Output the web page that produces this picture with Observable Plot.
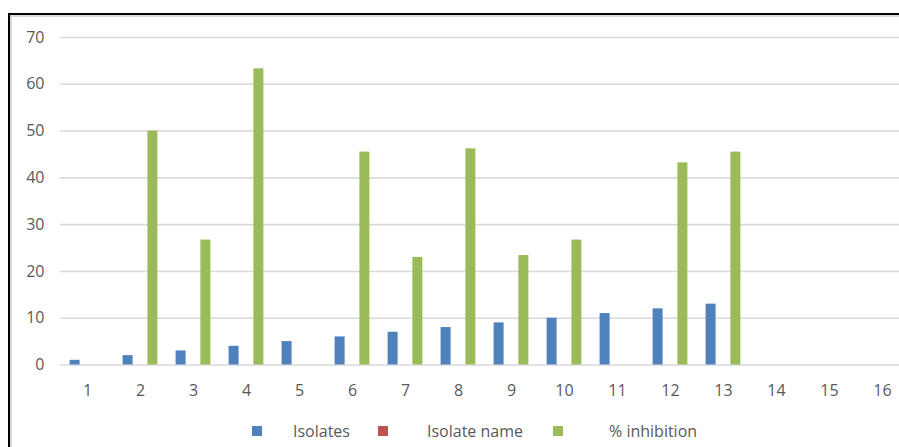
<!DOCTYPE html>
<html>
<head>
<meta charset="utf-8">
<script src="https://cdn.jsdelivr.net/npm/d3@7"></script>
<script src="https://cdn.jsdelivr.net/npm/@observablehq/plot@0.6"></script>
<style>
  html, body { margin: 0; padding: 0; background: #fff; overflow: hidden; width: 899px; height: 447px; }
  #frame { position: absolute; left: 8px; top: 13px; width: 1000px; height: 1000px; border: 2px solid #000; box-shadow: inset 2px 2px 0 #d9d9d9; box-sizing: border-box; }
  #chart { position: absolute; left: 0; top: 0; width: 912px; }
  #chart svg { max-width: none !important; }
  #legend { position: absolute; top: 420px; left: 0; width: 899px; height: 22px; font-family: "Open Sans", sans-serif; font-size: 16px; color: #595959; }
  .sw { position: absolute; top: 6px; width: 10px; height: 10px; }
  .lb { position: absolute; top: 0; line-height: 22px; white-space: nowrap; }
</style>
</head>
<body>
<div id="frame"></div>
<div id="chart"></div>
<div id="legend"></div>
<script>
const categories = ["1","2","3","4","5","6","7","8","9","10","11","12","13","14","15","16"];
const seriesNames = ["Isolates", "Isolate name", "% inhibition"];
const seriesColors = ["#4f81bd", "#c0504d", "#9bbb59"];
const isolates = [1,2,3,4,5,6,7,8,9,10,11,12,13,null,null,null];
const isolateName = [null,null,null,null,null,null,null,null,null,null,null,null,null,null,null,null];
const inhibition = [null,50,26.7,63.3,null,45.5,23,46.2,23.4,26.7,null,43.2,45.5,null,null,null];
const yTicks = [0,10,20,30,40,50,60,70];

const seriesValues = [isolates, isolateName, inhibition];
const offsets = [-12.4, 0, 12.4];

const marks = [
  Plot.ruleY(yTicks, {stroke: "#d9d9d9", strokeWidth: 1.6})
];
seriesValues.forEach((vals, si) => {
  const rows = categories.map((c, i) => ({cat: c, value: vals[i]})).filter(d => d.value != null);
  marks.push(Plot.barY(rows, {x: "cat", y: "value", fill: seriesColors[si], dx: offsets[si], insetLeft: 0, insetRight: 0}));
});
marks.push(Plot.axisY({ticks: yTicks, tickSize: 0, tickPadding: 16, fontSize: 16, fill: "#595959", label: null}));
marks.push(Plot.axisX({tickSize: 0, tickPadding: 20, fontSize: 16, fill: "#595959", label: null}));

const chart = Plot.plot({
  width: 912,
  height: 400,
  marginLeft: 60,
  marginRight: 2,
  marginTop: 37,
  marginBottom: 36,
  style: {fontFamily: "'Open Sans', sans-serif", background: "transparent", overflow: "visible", maxWidth: "none"},
  x: {domain: categories, type: "band", paddingInner: 0.81, paddingOuter: 0.405},
  y: {domain: [0, 70], range: [364.5, 37]},
  marks
});
document.getElementById("chart").appendChild(chart);

const legend = document.getElementById("legend");
const swX = [252, 378, 553];
const lbX = [293, 427, 609];
seriesNames.forEach((name, i) => {
  const sw = document.createElement("div");
  sw.className = "sw";
  sw.style.left = swX[i] + "px";
  sw.style.background = seriesColors[i];
  legend.appendChild(sw);
  const lb = document.createElement("div");
  lb.className = "lb";
  lb.style.left = lbX[i] + "px";
  lb.textContent = name;
  legend.appendChild(lb);
});
</script>
</body>
</html>
